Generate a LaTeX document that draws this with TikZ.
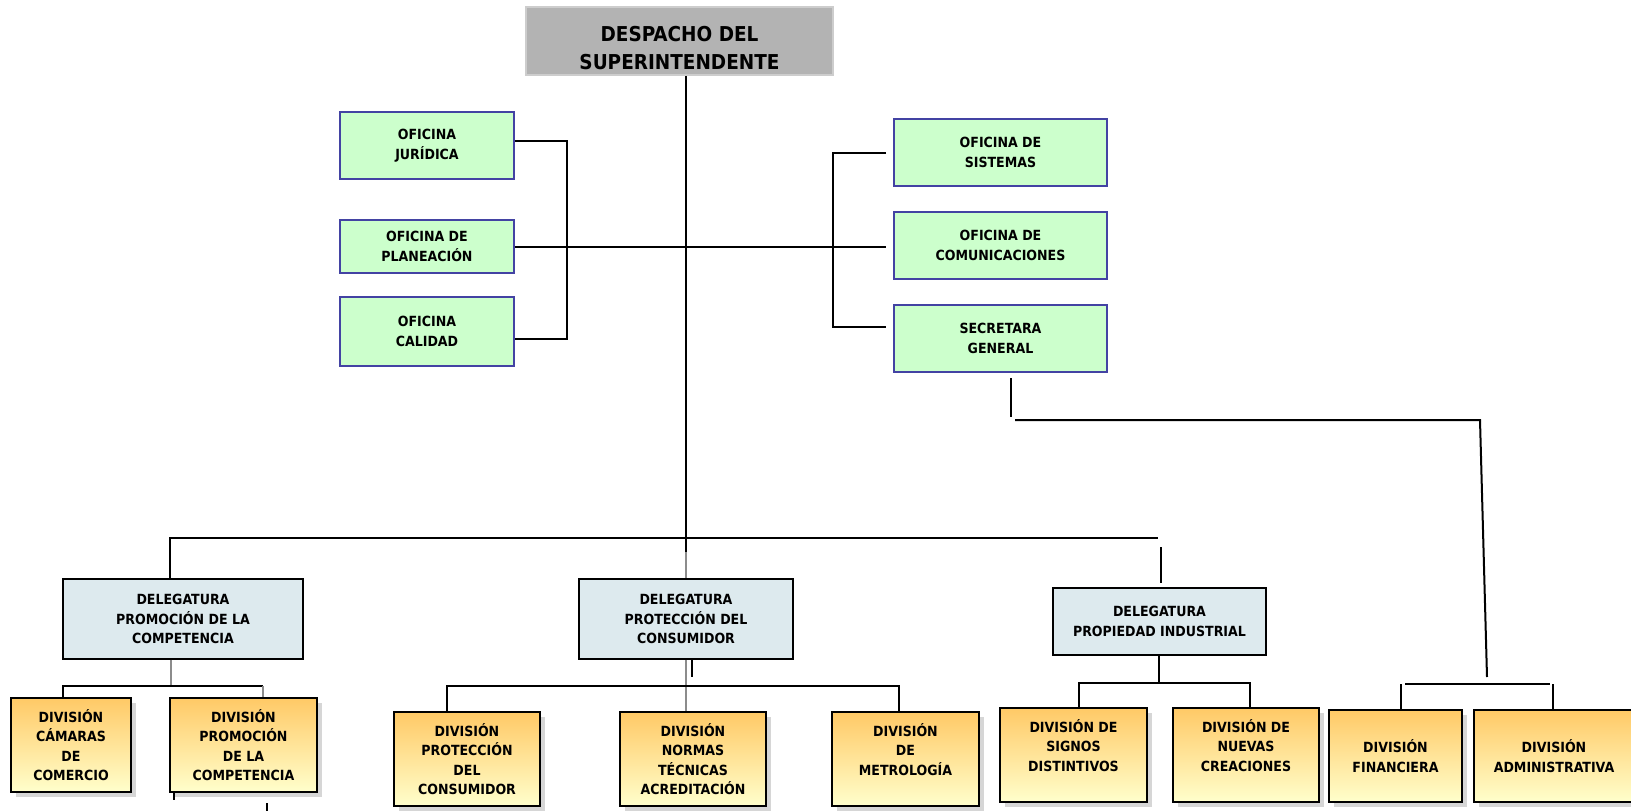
\documentclass[tikz,border=0pt]{standalone}
\usepackage{fontspec}
\newfontfamily\dvs{DejaVuSansCondensed-Bold.ttf}
\usetikzlibrary{shadows}
\definecolor{bossfill}{HTML}{B3B3B3}
\definecolor{bossline}{HTML}{CDCDCD}
\definecolor{ofifill}{HTML}{CCFFCC}
\definecolor{ofiline}{HTML}{4343A3}
\definecolor{delefill}{HTML}{DDEAEE}
\definecolor{divtop}{HTML}{FFC966}
\definecolor{divbot}{HTML}{FFFFCC}
\definecolor{shadowgray}{HTML}{D6D6D6}
\definecolor{linegray}{HTML}{8C8C8C}
\begin{document}
\begin{tikzpicture}[x=1pt,y=-1pt,
  box/.style={rectangle, align=center, inner sep=0pt, font=\dvs\fontsize{14}{19.5}\selectfont},
  boss/.style={rectangle, inner sep=0pt, fill=bossfill, draw=bossline, line width=1.5pt},
  bosstext/.style={align=center, inner sep=0pt, font=\dvs\fontsize{20.5}{28}\selectfont},
  ofi/.style={box, fill=ofifill, draw=ofiline, line width=1.8pt},
  dele/.style={box, fill=delefill, draw=black, line width=1.8pt},
  divi/.style={box, top color=divtop, bottom color=divbot, draw=black, line width=1.8pt,
    general shadow={fill=shadowgray, shadow xshift=5pt, shadow yshift=-5pt}},
  conn/.style={line width=2pt, black},
  gconn/.style={line width=2pt, linegray},
]
\clip (0,0) rectangle (1631,811);
\fill[white] (0,0) rectangle (1631,811);

% top
\node[boss, minimum width=307pt, minimum height=68pt] (desp) at (679.5,41) {};
\node[bosstext] (desptext) at (679.5,48) {DESPACHO DEL\\SUPERINTENDENTE};

% left offices
\node[ofi, minimum width=174pt, minimum height=67pt] (jur) at (427,145.5) {OFICINA\\JURÍDICA};
\node[ofi, minimum width=174pt, minimum height=53pt] (plan) at (427,246.5) {OFICINA DE\\PLANEACIÓN};
\node[ofi, minimum width=174pt, minimum height=69pt] (cal) at (427,331.5) {OFICINA\\CALIDAD};

% right offices
\node[ofi, minimum width=213pt, minimum height=67pt] (sis) at (1000.5,152.5) {OFICINA DE\\SISTEMAS};
\node[ofi, minimum width=213pt, minimum height=67pt] (com) at (1000.5,245.5) {OFICINA DE\\COMUNICACIONES};
\node[ofi, minimum width=213pt, minimum height=67pt] (sec) at (1000.5,338.5) {SECRETARA\\GENERAL};

% delegaturas
\node[dele, minimum width=240pt, minimum height=80pt] (dpr) at (183,619) {DELEGATURA\\PROMOCIÓN DE LA\\COMPETENCIA};
\node[dele, minimum width=214pt, minimum height=80pt] (dpc) at (686,619) {DELEGATURA\\PROTECCIÓN DEL\\CONSUMIDOR};
\node[dele, minimum width=213pt, minimum height=67pt] (dpi) at (1159.5,621.5) {DELEGATURA\\PROPIEDAD INDUSTRIAL};

% divisions
\node[divi, minimum width=120pt, minimum height=94pt] (cam) at (71,745) {DIVISIÓN\\CÁMARAS\\DE\\COMERCIO};
\node[divi, minimum width=147pt, minimum height=94pt] (pcm) at (243.5,745) {DIVISIÓN\\PROMOCIÓN\\DE LA\\COMPETENCIA};
\node[divi, minimum width=146pt, minimum height=94pt] (pcons) at (467,759) {DIVISIÓN\\PROTECCIÓN\\DEL\\CONSUMIDOR};
\node[divi, minimum width=146pt, minimum height=94pt] (norm) at (693,759) {DIVISIÓN\\NORMAS\\TÉCNICAS\\ACREDITACIÓN};
\node[divi, minimum width=147pt, minimum height=94pt] (metro) at (905.5,759) {DIVISIÓN\\DE\\METROLOGÍA\\\mbox{}};
\node[divi, minimum width=147pt, minimum height=94pt] (sig) at (1073.5,755) {DIVISIÓN DE\\SIGNOS\\DISTINTIVOS\\\mbox{}};
\node[divi, minimum width=146pt, minimum height=94pt] (nue) at (1246,755) {DIVISIÓN DE\\NUEVAS\\CREACIONES\\\mbox{}};
\node[divi, minimum width=133pt, minimum height=92pt] (fin) at (1395.5,756) {DIVISIÓN\\FINANCIERA};
\node[divi, minimum width=160pt, minimum height=92pt] (adm) at (1554,756) {DIVISIÓN\\ADMINISTRATIVA};

% coordinates
\coordinate (lbusT) at (567,141);
\coordinate (lbusB) at (567,339);
\coordinate (rstub2) at (886,247);
\coordinate (rbusT) at (833,153);
\coordinate (rbusB) at (833,327);
\coordinate (rs1) at (886,153);
\coordinate (rs3) at (886,327);
\coordinate (mbus) at (686,538);
\coordinate (mgray) at (686,552);
\coordinate (busL) at (170,538);
\coordinate (busR) at (1158,538);
\coordinate (pistub) at (1161,547);
\coordinate (prbus) at (171,686);
\coordinate (prbL) at (63,686);
\coordinate (prbR) at (263,686);
\coordinate (pcbL) at (447,686);
\coordinate (pcbR) at (899,686);
\coordinate (pcstub) at (692,677);
\coordinate (pibL) at (1079,683);
\coordinate (pibR) at (1250,683);
\coordinate (pibM) at (1159,683);
\coordinate (sg1) at (1011,378);
\coordinate (sg2) at (1011,417);
\coordinate (sg3) at (1015,420);
\coordinate (sg4) at (1480,420);
\coordinate (sg5) at (1487,677);
\coordinate (ab1) at (1405,684);
\coordinate (ab2) at (1550,684);
\coordinate (abL) at (1401,684);
\coordinate (abR) at (1553,684);
\coordinate (st1) at (174,800);
\coordinate (st2a) at (267,803);
\coordinate (st2b) at (267,811);

% left office connectors
\draw[conn] (jur.east |- lbusT) -- (lbusT) -- (lbusB) -- (cal.east |- lbusB);
\draw[conn] (plan.east |- rstub2) -- (rstub2);
% right office connectors
\draw[conn] (rs1) -- (rbusT) -- (rbusB) -- (rs3);

% main trunk
\draw[conn] (desp.south -| mbus) -- (mgray);
\draw[gconn] (mgray) -- (dpc.north -| mbus);
\draw[conn] (dpr.north -| busL) -- (busL) -- (busR);
\draw[conn] (pistub) -- ([yshift=4pt]dpi.north -| pistub);

% under promocion
\draw[gconn] (dpr.south -| prbus) -- (prbus);
\draw[conn] (cam.north -| prbL) -- (prbL) -- (prbR);
\draw[gconn] (prbR) -- (pcm.north -| prbR);

% under proteccion
\draw[gconn] (dpc.south -| mbus) -- (norm.north -| mbus);
\draw[conn, line width=2.8pt] (dpc.south -| pcstub) -- (pcstub);
\draw[conn] (pcons.north -| pcbL) -- (pcbL) -- (pcbR) -- (metro.north -| pcbR);

% under propiedad
\draw[conn] (dpi.south -| pibM) -- (pibM);
\draw[conn] (sig.north -| pibL) -- (pibL) -- (pibR) -- (nue.north -| pibR);

% secretaria general branch
\draw[conn] (sg1) -- (sg2);
\draw[conn] (sg3) -- (sg4) -- (sg5);
\draw[conn] (ab1) -- (ab2);
\draw[conn] (fin.north -| abL) -- (abL);
\draw[conn] (adm.north -| abR) -- (abR);

% stray fragments
\draw[conn] (pcm.south -| st1) -- (st1);
\draw[conn] (st2a) -- (st2b);
\end{tikzpicture}
\end{document}
